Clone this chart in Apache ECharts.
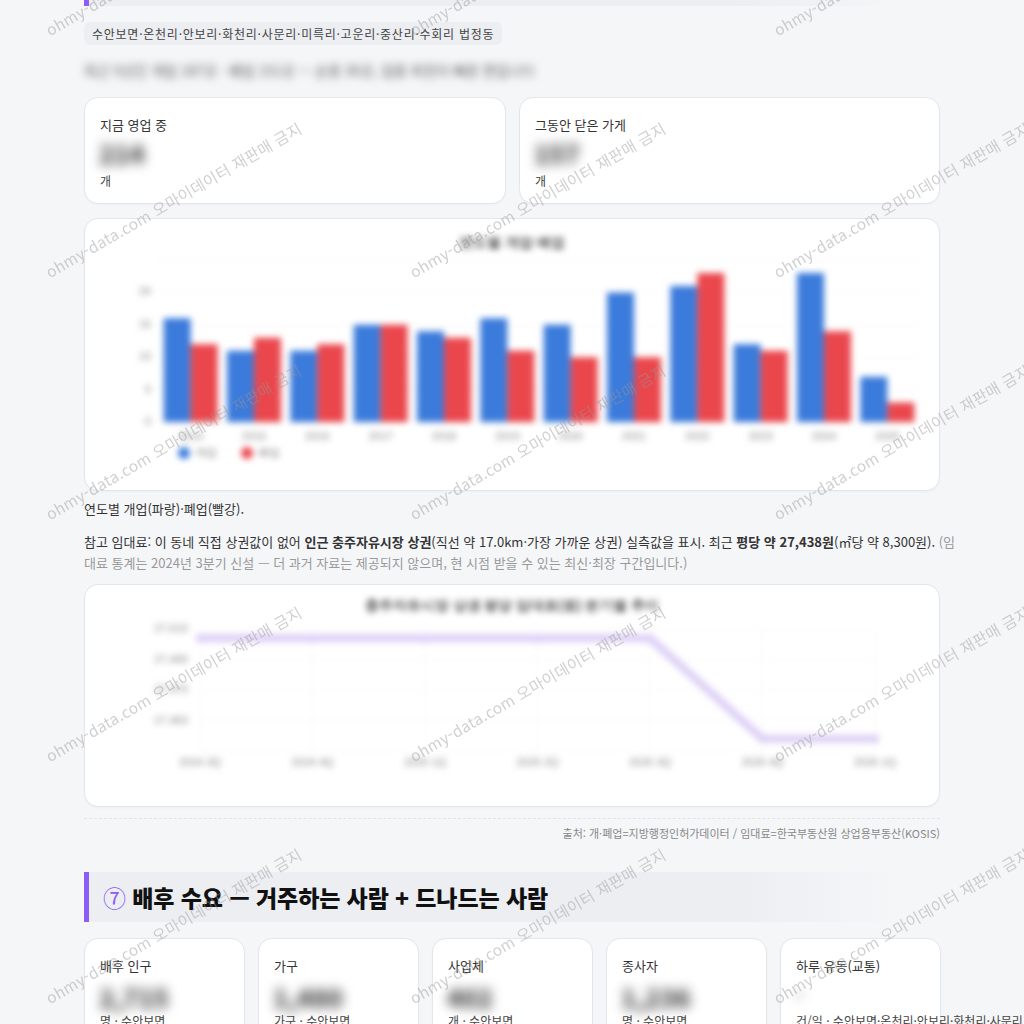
<!DOCTYPE html>
<html lang="ko">
<head>
<meta charset="utf-8">
<script src="https://cdn.jsdelivr.net/npm/echarts@6/dist/echarts.min.js"></script>
<style>
  html,body{margin:0;padding:0;}
  body{width:1024px;height:1024px;overflow:hidden;background:#f5f6f8;position:relative;
       font-family:"Noto Sans CJK KR","Noto Sans",sans-serif;color:#333;}
  .abs{position:absolute;}
  .sec-head{position:absolute;left:84px;width:816px;height:50px;border-left:5px solid #8b5cf6;
       background:linear-gradient(90deg,#eceef2 0%,#eceef2 80%,rgba(236,238,242,0) 100%);box-sizing:border-box;}
  .pill{left:84px;top:22px;height:23px;line-height:23px;padding:0 8px;background:#eceef2;border-radius:6px;
       font-size:12px;color:#444;white-space:nowrap;letter-spacing:0.75px;}
  .card{position:absolute;background:#fff;border:1px solid #e3e6ea;border-radius:14px;box-sizing:border-box;
       box-shadow:0 1px 2px rgba(0,0,0,0.03);}
  .lbl{position:absolute;font-size:13px;color:#333;white-space:nowrap;}
  .num{position:absolute;font-size:25px;font-weight:800;color:#444;filter:blur(6px);white-space:nowrap;}
  .sub{position:absolute;font-size:12px;color:#444;white-space:nowrap;}
  .chartbox{position:absolute;left:0;top:0;right:0;bottom:0;filter:blur(3px);}
  .wm{position:absolute;font-size:15.5px;color:rgba(150,150,150,0.45);white-space:nowrap;
      transform-origin:0 100%;transform:rotate(-30deg);pointer-events:none;letter-spacing:0.3px;}
  p.txt{position:absolute;margin:0;left:84px;font-size:13px;line-height:21px;color:#333;white-space:nowrap;}
</style>
</head>
<body>
<!-- previous section header (bottom edge visible) -->
<div class="sec-head" style="top:-44px;"></div>

<div class="abs pill">수안보면·온천리·안보리·화천리·사문리·미륵리·고운리·중산리·수회리 법정동</div>
<div class="abs" style="left:84px;top:60px;font-size:14px;color:#555;filter:blur(4px);white-space:nowrap;">최근 5년간 개업 187곳 · 폐업 151곳 — 순증 36곳, 업종 회전이 빠른 편입니다</div>

<div class="card" style="left:84px;top:97px;width:422px;height:107px;">
  <div class="lbl" style="left:15px;top:17px;">지금 영업 중</div>
  <div class="num" style="left:14px;top:37px;">214</div>
  <div class="sub" style="left:15px;top:74px;">개</div>
</div>
<div class="card" style="left:519px;top:97px;width:421px;height:107px;">
  <div class="lbl" style="left:15px;top:17px;">그동안 닫은 가게</div>
  <div class="num" style="left:14px;top:37px;">157</div>
  <div class="sub" style="left:15px;top:74px;">개</div>
</div>

<div class="card" style="left:84px;top:218px;width:856px;height:273px;overflow:hidden;">
  <div id="c1" class="chartbox"></div>
</div>

<p class="txt" style="top:498px;">연도별 개업(파랑)·폐업(빨강).</p>
<p class="txt" style="top:531px;">참고 임대료: 이 동네 직접 상권값이 없어 <b>인근 충주자유시장 상권</b>(직선 약 17.0km·가장 가까운 상권) 실측값을 표시. 최근 <b>평당 약 27,438원</b>(㎡당 약 8,300원). <span style="color:#999">(임</span></p>
<p class="txt" style="top:552px;color:#999;">대료 통계는 2024년 3분기 신설 — 더 과거 자료는 제공되지 않으며, 현 시점 받을 수 있는 최신·최장 구간입니다.)</p>

<div class="card" style="left:84px;top:584px;width:856px;height:223px;overflow:hidden;">
  <div id="c2" class="chartbox"></div>
</div>

<div class="abs" style="left:84px;top:818px;width:856px;border-top:1px dashed #e2e4e8;"></div>
<div class="abs" style="right:84px;top:825px;font-size:11px;color:#888;white-space:nowrap;">출처: 개·폐업=지방행정인허가데이터 / 임대료=한국부동산원 상업용부동산(KOSIS)</div>

<div class="sec-head" style="top:872px;"></div>
<div class="abs" style="left:103px;top:880px;font-size:23px;font-weight:900;color:#111;white-space:nowrap;letter-spacing:-0.1px;"><span style="color:#8b5cf6;font-weight:400;">⑦</span> 배후 수요 — 거주하는 사람 + 드나드는 사람</div>

<div class="card" style="left:84px;top:938px;width:161px;height:120px;">
  <div class="lbl" style="left:15px;top:17px;">배후 인구</div>
  <div class="num" style="left:14px;top:40px;">2,715</div>
  <div class="sub" style="left:15px;top:73px;">명 · 수안보면</div>
</div>
<div class="card" style="left:258px;top:938px;width:161px;height:120px;">
  <div class="lbl" style="left:15px;top:17px;">가구</div>
  <div class="num" style="left:14px;top:40px;">1,480</div>
  <div class="sub" style="left:15px;top:73px;">가구 · 수안보면</div>
</div>
<div class="card" style="left:432px;top:938px;width:161px;height:120px;">
  <div class="lbl" style="left:15px;top:17px;">사업체</div>
  <div class="num" style="left:14px;top:40px;">402</div>
  <div class="sub" style="left:15px;top:73px;">개 · 수안보면</div>
</div>
<div class="card" style="left:606px;top:938px;width:161px;height:120px;">
  <div class="lbl" style="left:15px;top:17px;">종사자</div>
  <div class="num" style="left:14px;top:40px;">1,236</div>
  <div class="sub" style="left:15px;top:73px;">명 · 수안보면</div>
</div>
<div class="card" style="left:780px;top:938px;width:161px;height:120px;">
  <div class="lbl" style="left:15px;top:17px;">하루 유동(교통)</div>
  <div class="num" style="left:14px;top:42px;font-size:16px;">–</div>
  <div class="sub" style="left:15px;top:73px;">건/일 · 수안보면·온천리·안보리·화천리·사문리</div>
</div>

<div id="wm" class="abs" style="left:0;top:0;width:1024px;height:1024px;overflow:hidden;pointer-events:none;"></div>

<script>
// ---- data ----
const years = ['2014','2015','2016','2017','2018','2019','2020','2021','2022','2023','2024','2025'];
const openCounts  = [16, 11, 11, 15, 14, 16, 15, 20, 21, 12, 23, 7];
const closeCounts = [12, 13, 12, 15, 13, 11, 10, 10, 23, 11, 14, 3];
const barTitle = '연도별 개업·폐업';
const openName = '개업';
const closeName = '폐업';

const quarters = ['2024 3Q','2024 4Q','2025 1Q','2025 2Q','2025 3Q','2025 4Q','2026 1Q'];
const rentPerPyeong = [27504, 27504, 27504, 27504, 27504, 27438, 27438];
const lineTitle = '충주자유시장 상권 평당 임대료(원) 분기별 추이';

// ---- bar chart ----
const c1 = echarts.init(document.getElementById('c1'));
c1.setOption({
  animation:false,
  title:{text:barTitle,left:'center',top:12,textStyle:{fontSize:14,fontWeight:'bold',color:'#555'}},
  legend:{bottom:26,left:88,icon:'circle',itemWidth:12,itemHeight:12,itemGap:24,
          textStyle:{fontSize:11,color:'#777'},data:[openName,closeName]},
  grid:{left:74,right:20,top:41,bottom:68},
  xAxis:{type:'category',data:years,axisTick:{show:false},axisLine:{show:false},
         axisLabel:{fontSize:11,color:'#888',margin:9}},
  yAxis:{type:'value',min:0,max:25,interval:5,
         axisLabel:{fontSize:11,color:'#888',showMaxLabel:false},
         splitLine:{lineStyle:{color:'#f5f5f5'}}},
  series:[
    {name:openName,type:'bar',data:openCounts,barWidth:27,barGap:'0%',itemStyle:{color:'#3b7bdb'}},
    {name:closeName,type:'bar',data:closeCounts,barWidth:27,itemStyle:{color:'#ea474d'}}
  ]
});

// ---- line chart ----
const c2 = echarts.init(document.getElementById('c2'));
c2.setOption({
  animation:false,
  title:{text:lineTitle,left:'center',top:9,textStyle:{fontSize:14,fontWeight:'bold',color:'#555'}},
  grid:{left:115,right:64,top:44,bottom:55},
  xAxis:{type:'category',data:quarters,boundaryGap:false,axisTick:{show:false},axisLine:{show:false},
         axisLabel:{fontSize:11,color:'#888',margin:6},
         splitLine:{show:true,lineStyle:{color:'#f7f7f7'}}},
  yAxis:{type:'value',min:27430,max:27510,interval:20,
         axisLabel:{fontSize:11,color:'#888',showMinLabel:false,margin:12},
         splitLine:{lineStyle:{color:'#f7f7f7'}}},
  series:[{type:'line',data:rentPerPyeong,symbol:'circle',symbolSize:9,
           lineStyle:{width:8,color:'#ddd0f6'},itemStyle:{color:'#ddd0f6'}}]
});

// ---- watermarks ----
const wm = document.getElementById('wm');
const rows = [38, 280, 522, 764, 1006];
const cols = [52, 416, 780];
rows.forEach(function(y){ cols.forEach(function(x){
  const d = document.createElement('div');
  d.className = 'wm';
  d.textContent = 'ohmy-data.com 오마이데이터 재판매 금지';
  d.style.left = x + 'px';
  d.style.top = (y - 20) + 'px';
  wm.appendChild(d);
});});
</script>
</body>
</html>
